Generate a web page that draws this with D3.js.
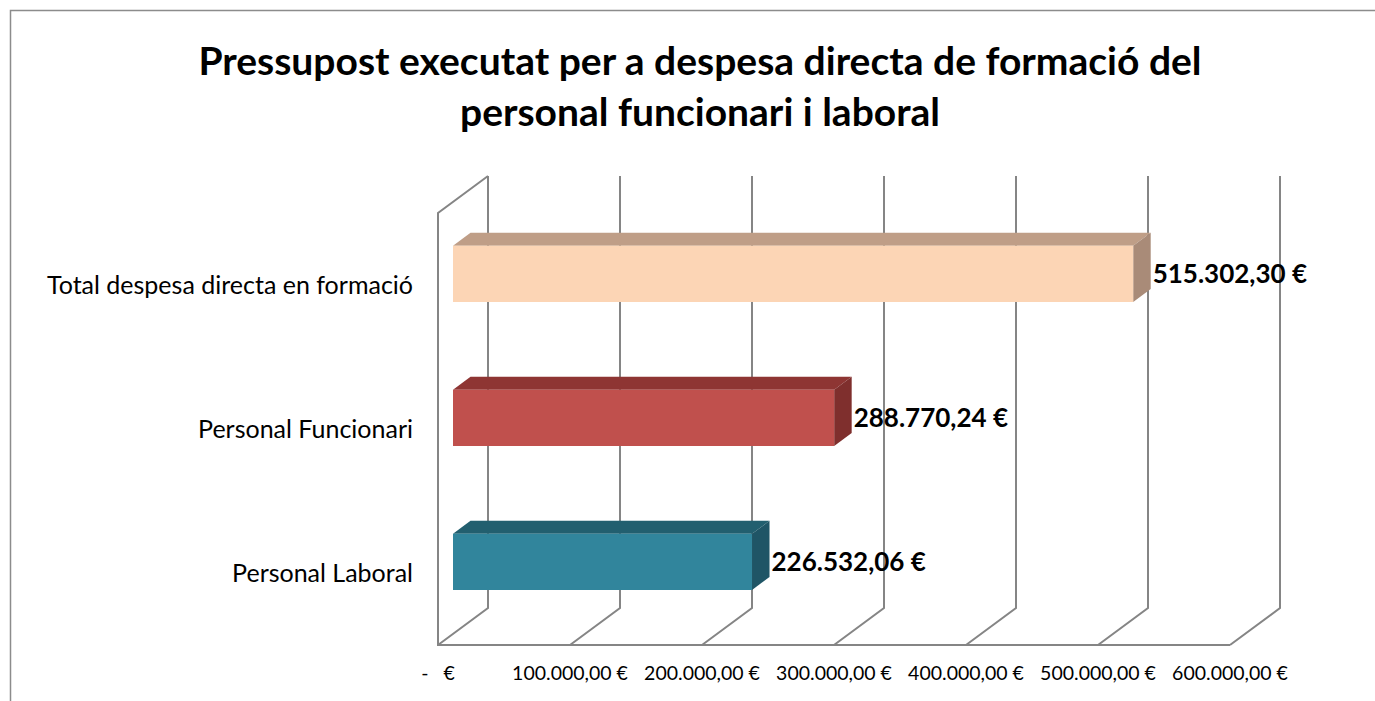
<!DOCTYPE html>
<html>
<head>
<meta charset="utf-8">
<script src="https://cdn.jsdelivr.net/npm/d3@7"></script>
<style>
  body { margin: 0; background: #fff; }
  text { font-family: Lato, "Liberation Sans", sans-serif; }
</style>
</head>
<body>
<div id="chart"></div>
<script>
// chart data
var categories = ["Total despesa directa en formació", "Personal Funcionari", "Personal Laboral"];
var values = [515302.30, 288770.24, 226532.06];
var valueLabels = ["515.302,30 €", "288.770,24 €", "226.532,06 €"];
var tickValues = [0, 100000, 200000, 300000, 400000, 500000, 600000];
var tickLabels = ["-   €", "100.000,00 €", "200.000,00 €", "300.000,00 €", "400.000,00 €", "500.000,00 €", "600.000,00 €"];
var titleLines = ["Pressupost executat per a despesa directa de formació del", "personal funcionari i laboral"];

// colours per bar: front, top, side
var barColors = [
  { front: "#FCD5B5", top: "#BF9E87", side: "#A98B78" },
  { front: "#C0504D", top: "#8E3533", side: "#7F2F2D" },
  { front: "#31859C", top: "#225F6F", side: "#1F5566" }
];

var svgWidth = 1375;
var svgHeight = 701;

// front plane of the 3d box
var plot = { left: 438, right: 1230, top: 213, bottom: 645 };
// depth vector of the box
var depth = { dx: 50, dy: -37 };
// bar placement inside the depth (fractions)
var barDepth = { z0: 0.3, z1: 0.65 };

var svg = d3.select("#chart")
  .append("svg")
  .attr("width", svgWidth)
  .attr("height", svgHeight);

// outer frame
svg.append("rect")
  .attr("x", 10.5)
  .attr("y", 10.5)
  .attr("width", 1450)
  .attr("height", 800)
  .attr("fill", "none")
  .attr("stroke", "#8c8c8c")
  .attr("stroke-width", 1.5);

// title
svg.append("text")
  .attr("x", 700)
  .attr("y", 75)
  .attr("text-anchor", "middle")
  .attr("font-size", "39px")
  .attr("font-weight", "bold")
  .selectAll("tspan")
  .data(titleLines)
  .enter()
  .append("tspan")
  .attr("x", 700)
  .attr("dy", (d, i) => i === 0 ? 0 : 51)
  .text(d => d);

var xScale = d3.scaleLinear()
  .domain([0, 600000])
  .range([plot.left, plot.right]);

var yScale = d3.scaleBand()
  .domain(categories)
  .range([plot.top, plot.bottom])
  .paddingInner(0.61)
  .paddingOuter(0.305);

// project a front-plane point back by fraction z of the depth
function proj(x, y, z) {
  return [x + depth.dx * z, y + depth.dy * z];
}

var gridColor = "#858585";
var grid = svg.append("g")
  .attr("fill", "none")
  .attr("stroke", gridColor)
  .attr("stroke-width", 2);

// back wall verticals and floor diagonals
tickValues.forEach(function(t) {
  var fx = xScale(t);
  var b0 = proj(fx, plot.top, 1);
  var b1 = proj(fx, plot.bottom, 1);
  grid.append("path")
    .attr("d", d3.line()([[fx, plot.bottom], b1, b0]));
});

// side wall (left) front edge + top edge, floor front edge
var lt = proj(plot.left, plot.top, 1);
grid.append("path")
  .attr("d", d3.line()([lt, [plot.left, plot.top], [plot.left, plot.bottom], [plot.right, plot.bottom]]));

// bars
var bars = svg.selectAll(".bar")
  .data(values)
  .enter()
  .append("g")
  .attr("class", "bar");

bars.each(function(v, i) {
  var g = d3.select(this);
  var x0 = xScale(0), x1 = xScale(v);
  var y0 = yScale(categories[i]), y1 = y0 + yScale.bandwidth();
  var c = barColors[i];
  var fTL = proj(x0, y0, barDepth.z0), fTR = proj(x1, y0, barDepth.z0);
  var fBR = proj(x1, y1, barDepth.z0), fBL = proj(x0, y1, barDepth.z0);
  var bTL = proj(x0, y0, barDepth.z1), bTR = proj(x1, y0, barDepth.z1);
  var bBR = proj(x1, y1, barDepth.z1);

  g.append("path")
    .attr("d", d3.line()([fTL, bTL, bTR, fTR]) + "Z")
    .attr("fill", c.top);
  g.append("path")
    .attr("d", d3.line()([fTR, bTR, bBR, fBR]) + "Z")
    .attr("fill", c.side);
  g.append("path")
    .attr("d", d3.line()([fTL, fTR, fBR, fBL]) + "Z")
    .attr("fill", c.front);

  // value label
  g.append("text")
    .attr("x", bTR[0] + 2)
    .attr("y", (fTL[1] + fBL[1]) / 2)
    .attr("dy", "0.35em")
    .attr("font-size", "26px")
    .attr("font-weight", "bold")
    .attr("fill", "#000")
    .text(valueLabels[i]);
});

// category labels
svg.append("g")
  .selectAll("text")
  .data(categories)
  .enter()
  .append("text")
  .attr("x", 413)
  .attr("y", d => yScale(d) + yScale.bandwidth() / 2)
  .attr("dy", "0.35em")
  .attr("text-anchor", "end")
  .attr("font-size", "25px")
  .attr("fill", "#000")
  .text(d => d);

// x tick labels
svg.append("g")
  .selectAll("text")
  .data(tickValues)
  .enter()
  .append("text")
  .attr("x", d => xScale(d))
  .attr("y", 673)
  .attr("dy", "0.35em")
  .attr("text-anchor", "middle")
  .attr("font-size", "19.5px")
  .attr("fill", "#000")
  .style("white-space", "pre")
  .text((d, i) => tickLabels[i]);
</script>
</body>
</html>
